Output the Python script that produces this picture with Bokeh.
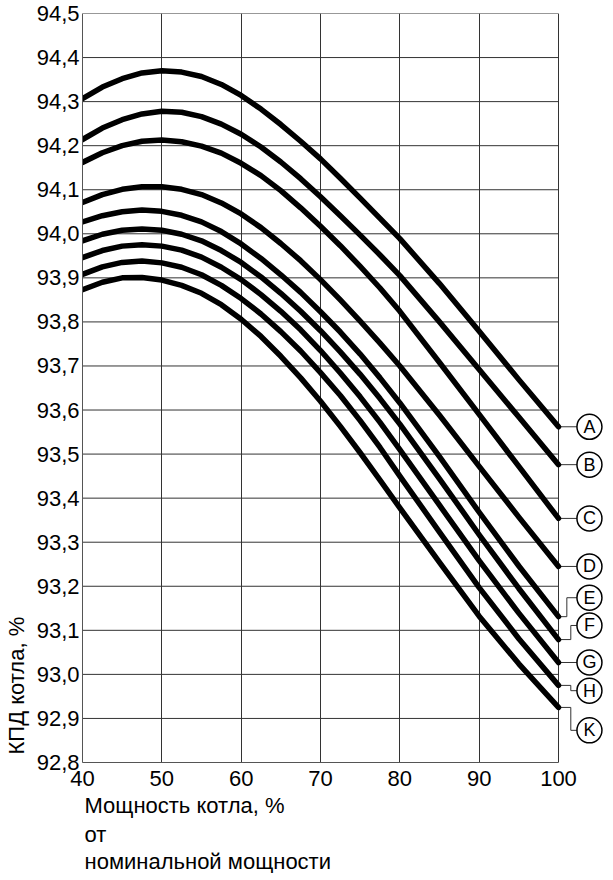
from bokeh.plotting import figure
from bokeh.models import Range1d, FixedTicker, ColumnDataSource, Title
from bokeh.embed import file_html
from bokeh.resources import INLINE
from bokeh.core.properties import value

# ---------------- data ----------------
LOAD = [40, 42.5, 45, 47.5, 50, 52.5, 55, 57.5, 60, 62.5, 65, 67.5, 70, 72.5, 75, 77.5, 80, 85, 90, 95, 100]

EFF_A = [94.307, 94.333, 94.352, 94.365, 94.370, 94.367, 94.357, 94.339, 94.314, 94.283, 94.248,
         94.210, 94.170, 94.126, 94.081, 94.035, 93.989, 93.887, 93.779, 93.669, 93.562]
EFF_B = [94.214, 94.240, 94.259, 94.272, 94.278, 94.276, 94.266, 94.249, 94.226, 94.197, 94.163,
         94.125, 94.084, 94.041, 93.997, 93.952, 93.905, 93.800, 93.692, 93.584, 93.476]
EFF_C = [94.162, 94.184, 94.200, 94.210, 94.213, 94.209, 94.199, 94.183, 94.160, 94.132, 94.098,
         94.059, 94.017, 93.973, 93.926, 93.877, 93.824, 93.708, 93.590, 93.472, 93.354]
EFF_D = [94.071, 94.089, 94.101, 94.107, 94.107, 94.101, 94.089, 94.070, 94.045, 94.014, 93.978,
         93.939, 93.896, 93.850, 93.802, 93.752, 93.700, 93.588, 93.472, 93.357, 93.245]
EFF_E = [94.027, 94.041, 94.050, 94.054, 94.051, 94.042, 94.027, 94.005, 93.977, 93.944, 93.907,
         93.867, 93.823, 93.777, 93.727, 93.673, 93.616, 93.494, 93.368, 93.246, 93.131]
EFF_F = [93.984, 93.999, 94.008, 94.011, 94.008, 93.999, 93.984, 93.962, 93.935, 93.902, 93.865,
         93.824, 93.780, 93.732, 93.681, 93.626, 93.568, 93.444, 93.317, 93.195, 93.079]
EFF_G = [93.946, 93.962, 93.972, 93.975, 93.972, 93.963, 93.947, 93.924, 93.896, 93.862, 93.824,
         93.782, 93.735, 93.684, 93.630, 93.572, 93.510, 93.384, 93.258, 93.139, 93.027]
EFF_H = [93.908, 93.925, 93.935, 93.938, 93.934, 93.924, 93.907, 93.883, 93.853, 93.818, 93.778,
         93.734, 93.685, 93.633, 93.576, 93.515, 93.450, 93.323, 93.197, 93.081, 92.975]
EFF_K = [93.873, 93.890, 93.900, 93.901, 93.895, 93.883, 93.865, 93.839, 93.806, 93.767, 93.722,
         93.673, 93.620, 93.563, 93.503, 93.441, 93.378, 93.254, 93.132, 93.024, 92.925]

CURVE_NAMES = ["A", "B", "C", "D", "E", "F", "G", "H", "K"]
CURVES = [EFF_A, EFF_B, EFF_C, EFF_D, EFF_E, EFF_F, EFF_G, EFF_H, EFF_K]

# vertical position of each circled letter (efficiency units)
LABEL_Y = [93.562, 93.476, 93.354, 93.245, 93.174, 93.111, 93.027, 92.963, 92.873]

X_TICKS = [40, 50, 60, 70, 80, 90, 100]
X_TICK_LABELS = ["40", "50", "60", "70", "80", "90", "100"]
Y_TICKS = [92.8, 92.9, 93.0, 93.1, 93.2, 93.3, 93.4, 93.5, 93.6, 93.7,
           93.8, 93.9, 94.0, 94.1, 94.2, 94.3, 94.4, 94.5]
Y_TICK_LABELS = ["92,8", "92,9", "93,0", "93,1", "93,2", "93,3", "93,4", "93,5", "93,6", "93,7",
                 "93,8", "93,9", "94,0", "94,1", "94,2", "94,3", "94,4", "94,5"]

X_TITLE_LINES = ["Мощность котла, %", "от", "номинальной мощности"]
Y_TITLE = "КПД котла, %"

# ---------------- layout constants ----------------
FONT = "Liberation Sans"
X_END = 105.672          # room right of 100 for the circled letters
ELBOW_X = [None, None, None, None, 101.05, 101.55, None, 101.55, 101.55]
CIRCLE_X = 103.9
CIRCLE_LEFT = 102.35

p = figure(
    frame_width=521, frame_height=749,
    x_range=Range1d(X_TICKS[0], X_END), y_range=Range1d(Y_TICKS[0], Y_TICKS[-1]),
    output_backend="svg", toolbar_location=None,
    min_border_left=82, min_border_top=13, min_border_right=2, min_border_bottom=10,
)
p.background_fill_color = "white"
p.border_fill_color = "white"
p.outline_line_color = None

# axes
xa = p.xaxis[0]
xa.ticker = FixedTicker(ticks=X_TICKS)
xa.major_label_overrides = {t: l for t, l in zip(X_TICKS, X_TICK_LABELS)}
xa.bounds = (X_TICKS[0], X_TICKS[-1])
ya = p.yaxis[0]
ya.ticker = FixedTicker(ticks=Y_TICKS)
ya.major_label_overrides = {t: l for t, l in zip(Y_TICKS, Y_TICK_LABELS)}
for ax in (xa, ya):
    ax.axis_line_color = "#555555"
    ax.axis_line_width = 1
    ax.major_tick_out = 0
    ax.major_tick_in = 0
    ax.minor_tick_out = 0
    ax.minor_tick_in = 0
    ax.major_label_text_font = FONT
    ax.major_label_text_font_size = "22px"
    ax.major_label_text_color = "black"
xa.major_label_standoff = 8
ya.major_label_standoff = 3

# axis titles
for i, line in enumerate(X_TITLE_LINES):
    p.add_layout(Title(text=line, align="left", offset=2, standoff=4 if i == 0 else 0,
                       text_font=FONT, text_font_size="22px", text_font_style="normal",
                       text_color="black"), "below")
p.add_layout(Title(text=Y_TITLE, align="left", vertical_align="top", offset=8, standoff=3.5,
                   text_font=FONT, text_font_size="22px", text_font_style="normal",
                   text_color="black"), "left")

# grid
p.xgrid.ticker = FixedTicker(ticks=X_TICKS)
p.xgrid.grid_line_color = "#333333"
p.xgrid.grid_line_width = 1
p.xgrid.grid_line_alpha = 1
p.ygrid.visible = False
p.segment(x0=[X_TICKS[0]] * len(Y_TICKS), x1=[X_TICKS[-1]] * len(Y_TICKS),
          y0=Y_TICKS, y1=Y_TICKS, line_color="#333333", line_width=1)

# leader lines
lxs, lys = [], []
for curve, ly, ex in zip(CURVES, LABEL_Y, ELBOW_X):
    end = curve[-1]
    if ex is None:
        lxs.append([LOAD[-1], CIRCLE_LEFT])
        lys.append([end, end])
    else:
        lxs.append([LOAD[-1], ex, ex, CIRCLE_LEFT])
        lys.append([end, end, ly, ly])
p.multi_line(xs=lxs, ys=lys, line_color="#333333", line_width=1)

# curves
for curve in CURVES:
    p.line(LOAD, curve, line_color="black", line_width=5.5, line_cap="round", line_join="round")

# circled letters
src = ColumnDataSource(dict(x=[CIRCLE_X] * len(CURVE_NAMES), y=LABEL_Y, t=CURVE_NAMES))
p.scatter("x", "y", source=src, marker="circle", size=25, fill_color="white",
          line_color="black", line_width=1.5)
p.text("x", "y", text="t", source=src, text_align="center", text_baseline="middle",
       text_font=value(FONT), text_font_size="18px", text_color="black")

open("out.html", "w").write(file_html(p, INLINE))
